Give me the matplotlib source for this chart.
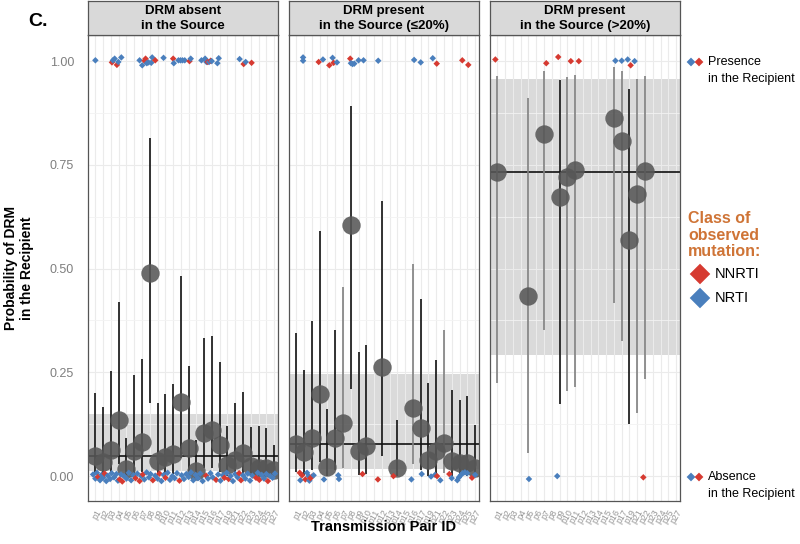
import matplotlib
matplotlib.use('Agg')
import matplotlib.pyplot as plt

plt.rcParams['font.family'] = ['Liberation Sans', 'DejaVu Sans']

# transmission pairs shown on the shared x axis
pairs = ['p1', 'p2', 'p3', 'p4', 'p5', 'p6', 'p7', 'p8', 'p9', 'p10', 'p11', 'p12',
         'p13', 'p14', 'p15', 'p16', 'p17', 'p19', 'p21', 'p22', 'p23', 'p24', 'p25', 'p27']

titles = ['DRM absent\nin the Source',
          'DRM present\nin the Source (≤20%)',
          'DRM present\nin the Source (>20%)']

# --- panel 1 : DRM absent in the source
p1_pairs = pairs
p1_est = [0.049, 0.034, 0.063, 0.135, 0.016, 0.060, 0.083, 0.490, 0.037, 0.045, 0.053, 0.179,
          0.068, 0.013, 0.104, 0.111, 0.075, 0.027, 0.039, 0.055, 0.024, 0.020, 0.020, 0.014]
p1_lo = [0.006, 0.002, 0.008, 0.030, 0.000, 0.006, 0.010, 0.177, 0.002, 0.004, 0.006, 0.043,
         0.006, 0.000, 0.020, 0.020, 0.010, 0.001, 0.002, 0.005, 0.001, 0.001, 0.001, 0.000]
p1_hi = [0.200, 0.166, 0.253, 0.419, 0.093, 0.243, 0.281, 0.814, 0.175, 0.199, 0.222, 0.483,
         0.266, 0.087, 0.334, 0.337, 0.275, 0.120, 0.175, 0.202, 0.119, 0.120, 0.116, 0.075]
p1_mean = 0.049
p1_band = (0.012, 0.149)

# --- panel 2 : DRM present in the source (<=20%)
p2_pairs = ['p1', 'p2', 'p3', 'p4', 'p5', 'p6', 'p7', 'p8', 'p9', 'p10', 'p12', 'p14',
            'p16', 'p17', 'p19', 'p21', 'p22', 'p23', 'p24', 'p25', 'p27']
p2_est = [0.077, 0.059, 0.092, 0.199, 0.022, 0.091, 0.127, 0.604, 0.060, 0.072, 0.263, 0.019,
          0.165, 0.115, 0.039, 0.061, 0.079, 0.037, 0.031, 0.031, 0.020]
p2_lo = [0.010, 0.002, 0.015, 0.034, 0.000, 0.015, 0.020, 0.211, 0.002, 0.005, 0.049, 0.000,
         0.030, 0.015, 0.000, 0.002, 0.008, 0.001, 0.001, 0.001, 0.000]
p2_hi = [0.346, 0.255, 0.373, 0.590, 0.161, 0.353, 0.455, 0.892, 0.298, 0.317, 0.663, 0.135,
         0.512, 0.426, 0.225, 0.280, 0.353, 0.207, 0.183, 0.193, 0.123]
p2_mean = 0.077
p2_band = (0.017, 0.245)

# --- panel 3 : DRM present in the source (>20%)
p3_pairs = ['p1', 'p5', 'p7', 'p9', 'p10', 'p11', 'p16', 'p17', 'p19', 'p21', 'p22']
p3_est = [0.732, 0.434, 0.824, 0.672, 0.720, 0.737, 0.862, 0.807, 0.570, 0.681, 0.735]
p3_lo = [0.225, 0.055, 0.352, 0.173, 0.206, 0.215, 0.416, 0.326, 0.125, 0.153, 0.233]
p3_hi = [0.965, 0.910, 0.977, 0.954, 0.962, 0.966, 0.986, 0.977, 0.932, 0.957, 0.964]
p3_mean = 0.733
p3_band = (0.292, 0.957)

# bars drawn lighter (pairs with less weight)
p1_light = []
p2_light = ['p7', 'p16', 'p22']
p3_light = ['p1', 'p5', 'p7', 'p10', 'p11', 'p16', 'p17', 'p21', 'p22']

# observed mutations (x in pair units, y jittered around 1 = presence / 0 = absence)
# class: N = NNRTI, T = NRTI
p1_obs_x = [0.00, 2.13, 2.26, 2.48, 2.77, 2.95, 3.34, 5.69, 6.03, 6.33, 6.46, 6.55, 6.62, 6.84,
            7.19, 7.31, 7.70, 8.77, 10.01, 10.09, 10.69, 10.95, 11.21, 11.50, 12.11, 12.27,
            13.65, 14.12, 14.29, 14.46, 14.63, 14.84, 14.97, 15.70, 15.87, 18.56, 19.08, 19.34,
            20.10,
            -0.30, 0.00, 0.20, 0.34, 0.60, 0.80, 1.00, 1.19, 1.40, 1.60, 1.90, 2.10, 2.40, 2.70,
            2.90, 3.12, 3.30, 3.46, 3.70, 4.00, 4.30, 4.60, 4.90, 5.17, 5.40, 5.69, 5.90, 6.11,
            6.30, 6.60, 6.90, 7.10, 7.40, 7.70, 8.00, 8.25, 8.50, 8.80, 9.02, 9.30, 9.60, 9.90,
            10.20, 10.50, 10.82, 11.10, 11.40, 11.70, 12.00, 12.30, 12.60, 12.90, 13.20, 13.50,
            13.80, 14.25, 14.50, 14.80, 15.10, 15.53, 15.80, 16.10, 16.40, 16.60, 16.90, 17.15,
            17.40, 17.70, 18.00, 18.30, 18.50, 18.74, 19.00, 19.30, 19.60, 19.90, 20.20, 20.67,
            20.90, 21.10, 21.40, 21.70, 22.00, 22.20, 22.50, 22.80, 23.10]
p1_obs_y = [1.002, 0.997, 1.002, 1.006, 0.991, 0.998, 1.009, 1.002, 0.990, 1.001, 1.006, 0.998,
            0.995, 0.997, 0.996, 1.009, 1.002, 1.008, 1.006, 0.995, 1.002, 1.002, 1.002, 1.002,
            1.000, 1.006, 1.002, 1.006, 0.998, 0.998, 0.998, 1.001, 1.000, 0.995, 1.007, 1.005,
            0.993, 0.998, 0.996,
            0.004, -0.006, 0.008, -0.002, -0.010, 0.003, -0.004, 0.006, -0.012, 0.001, -0.007,
            0.007, -0.003, 0.005, -0.011, -0.008, 0.004, -0.013, 0.000, -0.006, 0.008, -0.010,
            0.002, -0.005, 0.006, -0.012, 0.000, 0.004, -0.008, 0.009, -0.003, 0.005, -0.010,
            0.001, -0.006, 0.006, -0.012, 0.003, -0.004, 0.008, -0.009, 0.000, -0.005, 0.007,
            -0.011, 0.002, -0.007, 0.005, -0.002, 0.009, -0.010, 0.003, -0.005, 0.006, -0.012,
            0.001, -0.006, 0.007, -0.003, -0.009, 0.004, -0.011, 0.002, -0.004, 0.008, -0.007,
            0.000, -0.012, 0.005, -0.003, 0.007, -0.010, 0.002, -0.006, 0.006, -0.011, 0.001,
            -0.004, 0.008, -0.009, 0.003, -0.006, 0.005, -0.012, 0.000, -0.004, 0.006]
p1_obs_cls = list('TNTTNTT' 'TTNNNTTTTN' 'T' 'NTTTTTNT' 'TTTNTNTTT' 'TNTN'
                  'TTTNTTTNTTTTTT' 'TNTNTTTTTNTNTN' 'TTTTNTTNTTNTTT' 'TTNTTTTTTTTT'
                  'TNTTTNTTTNTN' 'TTTTNNTTTTTN' 'TNTTTNTTT')

p2_obs_x = [0.86, 0.86, 2.87, 3.42, 4.24, 4.66, 4.79, 5.22, 6.93, 7.02, 7.23, 7.45, 8.00, 8.64,
            10.53, 15.15, 16.00, 17.55, 18.06, 21.35, 22.12,
            0.43, 0.51, 0.73, 1.16, 1.37, 1.58, 1.67, 1.80, 2.01, 2.22, 3.55, 5.39, 5.48, 8.51,
            10.49, 12.49, 14.80, 16.13, 17.33, 17.84, 18.10, 18.52, 19.68, 19.99, 20.71, 20.92,
            21.14, 21.40, 21.69, 21.99, 22.60, 23.00]
p2_obs_y = [1.009, 1.001, 0.998, 1.004, 0.990, 1.008, 0.996, 0.997, 1.006, 0.995, 0.993, 0.994,
            1.002, 1.002, 1.001, 1.003, 0.997, 1.007, 0.994, 1.002, 0.991,
            0.008, -0.010, 0.002, -0.008, 0.008, 0.000, -0.011, -0.005, -0.001, 0.002, -0.008,
            0.002, -0.007, 0.005, -0.008, 0.000, -0.008, 0.005, -0.001, 0.003, 0.000, -0.010,
            0.005, -0.005, -0.010, -0.003, 0.002, 0.007, 0.009, 0.007, -0.004, 0.003]
p2_obs_cls = list('TTNTNTNTNTTTTTTTTTNNN'
                  'NTNNTTTNNTTTTN' 'NNTTTTNTNTTT' 'TTTTNT')

p3_obs_x = [-0.26, 6.29, 7.83, 9.45, 10.48, 15.19, 16.00, 16.77, 17.15, 17.66,
            4.06, 7.70, 18.78]
p3_obs_y = [1.004, 0.995, 1.010, 1.000, 1.000, 1.001, 1.001, 1.004, 0.990, 1.000,
            -0.007, 0.000, -0.003]
p3_obs_cls = list('NNNNNTTTNT' 'TTN')

red = '#d63a31'
blue = '#4a7fbd'
orange = '#cf7436'

panels = [
    (p1_pairs, p1_est, p1_lo, p1_hi, p1_mean, p1_band, p1_light, p1_obs_x, p1_obs_y, p1_obs_cls),
    (p2_pairs, p2_est, p2_lo, p2_hi, p2_mean, p2_band, p2_light, p2_obs_x, p2_obs_y, p2_obs_cls),
    (p3_pairs, p3_est, p3_lo, p3_hi, p3_mean, p3_band, p3_light, p3_obs_x, p3_obs_y, p3_obs_cls),
]

W, H = 800, 544
fig = plt.figure(figsize=(8, 5.44), dpi=100)

lefts = [88, 289, 490]
for k, (pp, est, lo, hi, mean, band, light, ox, oy, ocls) in enumerate(panels):
    ax = fig.add_axes([lefts[k] / W, 43 / H, 190 / W, 466 / H])
    ax.set_xlim(-0.95, 23.5)
    ax.set_ylim(-0.06, 1.063)
    ax.set_facecolor('white')
    ax.axhspan(band[0], band[1], color='#dadada', lw=0, zorder=0)

    ax.set_xticks(range(len(pairs)))
    ax.set_xticklabels(pairs, rotation=60, ha='right', va='top', rotation_mode='anchor',
                       fontsize=6.3, color='#959595')
    ax.set_yticks([0, 0.25, 0.5, 0.75, 1.0])
    ax.set_yticks([0.125, 0.375, 0.625, 0.875], minor=True)
    if k == 0:
        ax.set_yticklabels(['0.00', '0.25', '0.50', '0.75', '1.00'], fontsize=9, color='#7f7f7f')
    else:
        ax.set_yticklabels([])
    ax.tick_params(which='both', length=0)
    ax.tick_params(axis='y', pad=10)
    ax.tick_params(axis='x', pad=5)
    ax.set_axisbelow(True)
    ax.grid(True, which='major', color='#ebebeb', lw=0.8)
    ax.grid(True, which='minor', axis='y', color='#f3f3f3', lw=0.6)
    for s in ax.spines.values():
        s.set_color('#555555')
        s.set_linewidth(0.9)

    ax.axhline(mean, color='black', lw=1.1, zorder=2)
    xs = [pairs.index(p) for p in pp]
    cols = ['#808080' if p in light else '#111111' for p in pp]
    ax.vlines(xs, lo, hi, colors=cols, lw=1.2, zorder=3)
    ax.scatter(xs, est, s=175, color='#575757', alpha=0.88, lw=0, zorder=4)

    ccol = [red if c == 'N' else blue for c in ocls]
    ax.scatter(ox, oy, s=11, marker='D', c=ccol, lw=0, zorder=5)

    # facet strip
    sax = fig.add_axes([lefts[k] / W, 1 - 35 / H, 190 / W, 34.5 / H])
    sax.set_facecolor('#d9d9d9')
    sax.set_xticks([])
    sax.set_yticks([])
    for s in sax.spines.values():
        s.set_color('#555555')
        s.set_linewidth(0.9)
    sax.text(0.5, 0.48, titles[k], ha='center', va='center', fontsize=9.5,
             fontweight='bold', linespacing=1.3, transform=sax.transAxes)

# labels
fig.text(384 / W, 1 - 527 / H, 'Transmission Pair ID', ha='center', va='center',
         fontsize=10.5, fontweight='bold')
fig.text(19 / W, 1 - 268 / H, 'Probability of DRM\nin the Recipient', ha='center', va='center',
         rotation=90, fontsize=10, fontweight='bold', linespacing=1.1)
fig.text(28 / W, 1 - 22 / H, 'C.', ha='left', va='center', fontsize=14, fontweight='bold')

# right-hand annotations
ov = fig.add_axes([0, 0, 1, 1], facecolor='none')
ov.set_xlim(0, W)
ov.set_ylim(H, 0)
ov.axis('off')
for yy in [62, 477]:
    ov.scatter([691, 699], [yy, yy], s=20, marker='D', c=[blue, red], lw=0)
fig.text(708 / W, 1 - 62 / H, 'Presence', ha='left', va='center', fontsize=9)
fig.text(708 / W, 1 - 79 / H, 'in the Recipient', ha='left', va='center', fontsize=9)
fig.text(708 / W, 1 - 477 / H, 'Absence', ha='left', va='center', fontsize=9)
fig.text(708 / W, 1 - 494 / H, 'in the Recipient', ha='left', va='center', fontsize=9)

fig.text(688 / W, 1 - 235 / H, 'Class of\nobserved\nmutation:', ha='left', va='center',
         fontsize=11.5, fontweight='bold', color=orange, linespacing=1.15)
ov.scatter([700, 700], [274, 298], s=110, marker='D', c=[red, blue], lw=0)
fig.text(715 / W, 1 - 274 / H, 'NNRTI', ha='left', va='center', fontsize=10.5)
fig.text(715 / W, 1 - 298 / H, 'NRTI', ha='left', va='center', fontsize=10.5)

fig.savefig('out.png', dpi=100)
